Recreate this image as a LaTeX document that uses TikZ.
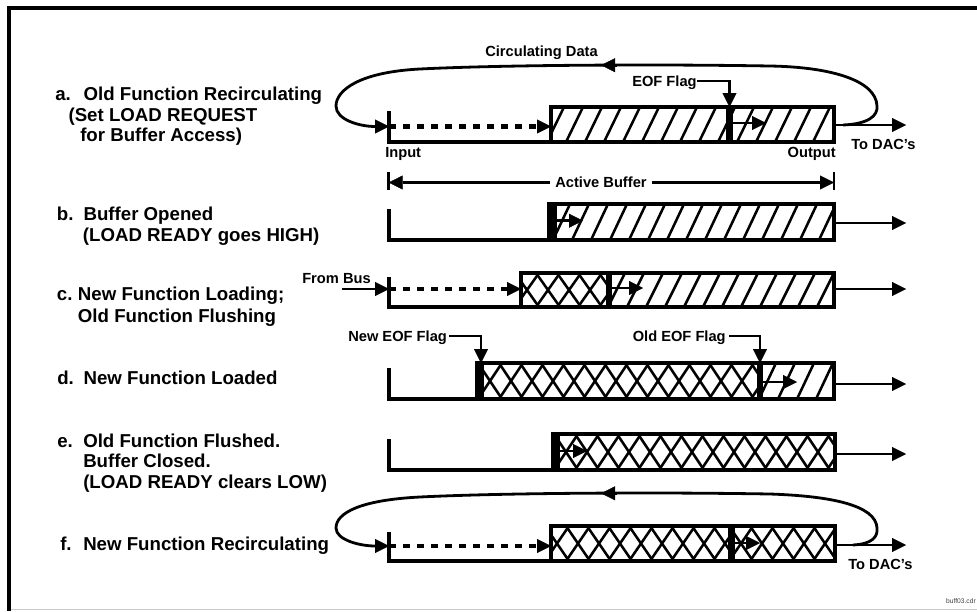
\documentclass[tikz,border=0pt]{standalone}
\usepackage{fontspec}
\setmainfont{Liberation Sans}
\usetikzlibrary{arrows.meta}
\tikzset{
  mytip/.tip={Triangle[length=10.5pt,width=10.5pt,line width=0.3pt]},
  lab/.style={font=\fontsize{14}{16}\selectfont\bfseries,anchor=base west,inner sep=0pt},
  sml/.style={font=\fontsize{11}{13}\selectfont\bfseries,inner sep=0pt},
  conn/.style={line width=2.1pt,-mytip},
  thinconn/.style={line width=1.7pt,-mytip},
  loopline/.style={line width=2.1pt,-mytip},
  dashconn/.style={line width=3.2pt,dash pattern=on 5.5pt off 5pt,-mytip},
  bufbox/.style={line width=2.6pt},
  hatchln/.style={line width=1.9pt},
  lshape/.style={line width=2.3pt,line join=miter},
  tickln/.style={line width=1.8pt},
}
\newcommand{\hatchR}[4]{%
  \begin{scope}
    \clip (#1,#3) rectangle (#2,#4);
    \foreach \k in {-2,...,20}{\draw[hatchln] ({#1+\k*19-4},#4) -- ++(17,{#3-#4});}
  \end{scope}}
\newcommand{\crossR}[4]{%
  \begin{scope}
    \clip (#1,#3) rectangle (#2,#4);
    \foreach \k in {-2,...,18}{%
      \draw[hatchln] ({#1+\k*21-6},#4) -- ++(24,{#3-#4});
      \draw[hatchln] ({#1+\k*21-6},#3) -- ++(24,{#4-#3});}
  \end{scope}}
\begin{document}
\begin{tikzpicture}[x=0.75pt,y=-0.75pt]
\useasboundingbox (0,0) rectangle (977,611);
\fill[white] (0,0) rectangle (977,611);
% frame
\draw[line width=3pt,line join=miter] (9,611) -- (9,8) -- (977,8);
\draw[black!20,line width=1.2pt] (11,609.5) -- (977,609.5);
\node[font=\fontsize{5}{6}\selectfont,text=black!75,anchor=base east,inner sep=0pt] (fname) at (976,603) {buff03.cdr};

% ---------- left labels ----------
\node[lab] (la1) at (55,100) {a.};
\node[lab] (la2) at (83.3,100) {Old Function Recirculating};
\node[lab] (la3) at (68.3,121) {(Set LOAD REQUEST};
\node[lab] (la4) at (80,141) {for Buffer Access)};
\node[lab] (lb1) at (56.7,220) {b.};
\node[lab] (lb2) at (83.3,220) {Buffer Opened};
\node[lab] (lb3) at (82.7,241) {(LOAD READY goes HIGH)};
\node[lab] (lc1) at (56.7,300.7) {c.};
\node[lab] (lc2) at (77.7,300.7) {New Function Loading;};
\node[lab] (lc3) at (77.7,322.7) {Old Function Flushing};
\node[lab] (ld1) at (57,384) {d.};
\node[lab] (ld2) at (83.3,384) {New Function Loaded};
\node[lab] (le1) at (57,447.7) {e.};
\node[lab] (le2) at (83,447.7) {Old Function Flushed.};
\node[lab] (le3) at (83,467.3) {Buffer Closed.};
\node[lab] (le4) at (83,488.3) {(LOAD READY clears LOW)};
\node[lab] (lf1) at (60,550.7) {f.};
\node[lab] (lf2) at (83,550.7) {New Function Recirculating};

% ---------- row a ----------
\hatchR{551}{834}{107}{142}
\draw[bufbox] (551,107) rectangle (834,142);
\fill (726,107) rectangle (733,142);
\coordinate (aTT) at (389,111); \coordinate (aTB) at (389,142); \coordinate (aBL) at (551,142);
\draw[lshape] (aTT) -- (aTB) -- (aBL);
\coordinate (aIn) at (389,126.5); \coordinate (aBI) at (551,126.5);
\draw[dashconn] (aIn) -- (aBI);
\coordinate (aS1) at (733,123); \coordinate (aS2) at (766,123);
\draw[conn] (aS1) -- (aS2);
\coordinate (aO1) at (834,125); \coordinate (aO2) at (906,125);
\draw[conn] (aO1) -- (aO2);
\coordinate (aJ) at (843,125);
\draw[loopline] (aJ) .. controls (868,124) and (878,116) .. (877,106)
  .. controls (876,80) and (830,67) .. (770,66)
  .. controls (650,64) and (500,65) .. (420,69)
  .. controls (360,72) and (336,90) .. (336,106)
  .. controls (336,120) and (360,126.5) .. (aIn);
\coordinate (aM1) at (617,65.2); \coordinate (aM2) at (601,65.2);
\draw[conn] (aM1) -- (aM2);
\node[sml,anchor=base west] (circ) at (485,56.5) {Circulating Data};
\node[sml,anchor=base west] (eof) at (632,86) {EOF Flag};
\coordinate (eofA) at (697,81); \coordinate (eofB) at (729.5,107);
\draw[conn] (eofA) -| (eofB);
\node[sml,anchor=base west] (inp) at (385,157) {Input};
\node[sml,anchor=base east] (outp) at (836,157) {Output};
\node[sml,anchor=base west] (dacA) at (851,149) {To DAC’s};

% ---------- active buffer ----------
\coordinate (abL) at (388.6,182.5); \coordinate (abR) at (834,182.5);
\node[sml,inner xsep=3.8pt] (ab) at (601,182.5) {Active Buffer};
\draw[tickln] (388.6,172) -- (388.6,190);
\draw[tickln] (834,172) -- (834,190);
\draw[thinconn] (ab.west) -- (abL);
\draw[thinconn] (ab.east) -- (abR);

% ---------- row b ----------
\hatchR{557}{834}{204}{240}
\draw[bufbox] (549,204) rectangle (834,240);
\fill (549,204) rectangle (557,240);
\coordinate (bTT) at (389,209); \coordinate (bTB) at (389,240); \coordinate (bBL) at (549,240);
\draw[lshape] (bTT) -- (bTB) -- (bBL);
\coordinate (bS1) at (557,220.7); \coordinate (bS2) at (583,220.7);
\draw[conn] (bS1) -- (bS2);
\coordinate (bO1) at (834,223); \coordinate (bO2) at (906,223);
\draw[conn] (bO1) -- (bO2);

% ---------- row c ----------
\crossR{521}{606}{273}{307}
\hatchR{612}{834}{273}{307}
\draw[bufbox] (521,273) rectangle (834,307);
\fill (606,273) rectangle (612,307);
\coordinate (cTT) at (389,277); \coordinate (cTB) at (389,307); \coordinate (cBL) at (521,307);
\draw[lshape] (cTT) -- (cTB) -- (cBL);
\coordinate (cIn) at (389,289); \coordinate (cBI) at (521,289);
\draw[dashconn] (cIn) -- (cBI);
\coordinate (cS1) at (612,288); \coordinate (cS2) at (643,288);
\draw[conn] (cS1) -- (cS2);
\coordinate (cO1) at (834,289); \coordinate (cO2) at (906,289);
\draw[conn] (cO1) -- (cO2);
\node[sml,anchor=base west] (bus) at (302,283) {From Bus};
\coordinate (busA) at (342,289);
\draw[conn] (busA) -- (cIn);

% ---------- row d ----------
\crossR{484}{757}{363}{399}
\hatchR{763}{834}{363}{399}
\draw[bufbox] (477,363) rectangle (834,399);
\fill (477,363) rectangle (484,399);
\fill (757,363) rectangle (763,399);
\coordinate (dTT) at (389,368); \coordinate (dTB) at (389,399); \coordinate (dBL) at (477,399);
\draw[lshape] (dTT) -- (dTB) -- (dBL);
\coordinate (dS1) at (763,382); \coordinate (dS2) at (797,382);
\draw[conn] (dS1) -- (dS2);
\coordinate (dO1) at (834,384); \coordinate (dO2) at (906,384);
\draw[conn] (dO1) -- (dO2);
\node[sml,anchor=base west] (neof) at (348,341) {New EOF Flag};
\coordinate (neA) at (449,336); \coordinate (neB) at (481,363);
\draw[conn] (neA) -| (neB);
\node[sml,anchor=base west] (oeof) at (632.5,341) {Old EOF Flag};
\coordinate (oeA) at (729,336); \coordinate (oeB) at (760,363);
\draw[conn] (oeA) -| (oeB);

% ---------- row e ----------
\crossR{560}{835}{434}{470}
\draw[bufbox] (553,434) rectangle (835,470);
\fill (553,434) rectangle (560,470);
\coordinate (eTT) at (389,439); \coordinate (eTB) at (389,470); \coordinate (eBL) at (553,470);
\draw[lshape] (eTT) -- (eTB) -- (eBL);
\coordinate (eS1) at (560,451); \coordinate (eS2) at (587,451);
\draw[conn] (eS1) -- (eS2);
\coordinate (eO1) at (835,454); \coordinate (eO2) at (906,454);
\draw[conn] (eO1) -- (eO2);

% ---------- row f ----------
\crossR{551}{728}{526}{561}
\crossR{735}{835}{526}{561}
\draw[bufbox] (551,526) rectangle (835,561);
\fill (728,526) rectangle (735,561);
\coordinate (fTT) at (389,532); \coordinate (fTB) at (389,561); \coordinate (fBL) at (551,561);
\draw[lshape] (fTT) -- (fTB) -- (fBL);
\coordinate (fIn) at (389,546); \coordinate (fBI) at (551,546);
\draw[dashconn] (fIn) -- (fBI);
\coordinate (fS1) at (735,543); \coordinate (fS2) at (760,543);
\draw[conn] (fS1) -- (fS2);
\coordinate (fO1) at (835,545); \coordinate (fO2) at (906,545);
\draw[conn] (fO1) -- (fO2);
\coordinate (fJ) at (853,545);
\draw[loopline] (fJ) .. controls (872,544) and (878,537) .. (877,528)
  .. controls (876,505) and (830,496) .. (770,494)
  .. controls (650,492) and (500,493) .. (420,497)
  .. controls (360,500) and (336,513) .. (336,528)
  .. controls (336,540) and (360,546) .. (fIn);
\coordinate (fM1) at (617,493.3); \coordinate (fM2) at (601,493.3);
\draw[conn] (fM1) -- (fM2);
\node[sml,anchor=base west] (dacF) at (848,569) {To DAC’s};
\end{tikzpicture}
\end{document}
